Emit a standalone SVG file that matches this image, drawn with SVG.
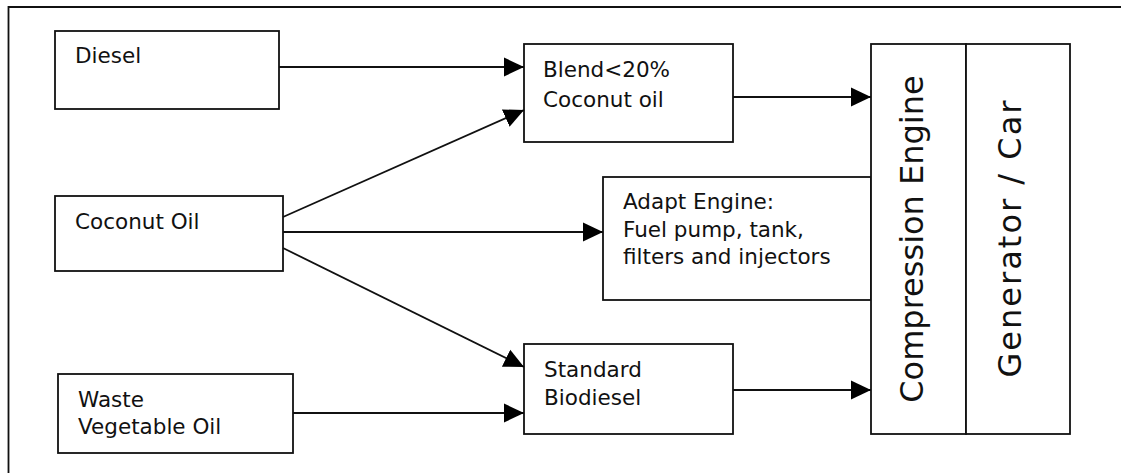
<svg xmlns="http://www.w3.org/2000/svg" width="1121" height="473" viewBox="0 0 1121 473">
<style>
.box{fill:#fff;stroke:#111;stroke-width:1.8}
.t{font-family:"DejaVu Sans","Liberation Sans",sans-serif;font-size:21.5px;fill:#111}
.big{font-family:"DejaVu Sans","Liberation Sans",sans-serif;font-size:32px;fill:#111}
.c{stroke:#111;stroke-width:1.8;fill:none}
</style>
<defs>
<marker id="ah" markerUnits="userSpaceOnUse" markerWidth="20" markerHeight="20" viewBox="0 0 19 18" refX="19" refY="9" orient="auto">
<path d="M0,0 L19,9 L0,18 Z" fill="#000"/>
</marker>
</defs>
<rect width="1121" height="473" fill="#fff"/>
<g id="frame">
<path d="M8.5,473 V7 H1121" class="c"/>
</g>
<g id="diesel">
<rect class="box" x="55" y="31" width="224" height="78"/>
<text class="t" x="75" y="63">Diesel</text>
</g>
<g id="coconut">
<rect class="box" x="55" y="196" width="228" height="75"/>
<text class="t" x="75" y="229">Coconut Oil</text>
</g>
<g id="waste">
<rect class="box" x="58" y="374" width="235" height="79"/>
<text class="t" x="78" y="407">Waste</text>
<text class="t" x="78" y="434">Vegetable Oil</text>
</g>
<g id="blend">
<rect class="box" x="524" y="44" width="209" height="98"/>
<text class="t" x="543" y="77">Blend&lt;20%</text>
<text class="t" x="543" y="107">Coconut oil</text>
</g>
<g id="adapt">
<rect class="box" x="603" y="177" width="268" height="123"/>
<text class="t" x="623" y="209">Adapt Engine:</text>
<text class="t" x="623" y="237">Fuel pump, tank,</text>
<text class="t" x="623" y="264">filters and injectors</text>
</g>
<g id="standard">
<rect class="box" x="524" y="344" width="209" height="90"/>
<text class="t" x="544" y="377">Standard</text>
<text class="t" x="544" y="405">Biodiesel</text>
</g>
<g id="engine">
<rect class="box" x="871" y="44" width="95" height="390"/>
<text class="big" x="923" y="239" text-anchor="middle" transform="rotate(-90 923 239)">Compression Engine</text>
</g>
<g id="generator">
<rect class="box" x="966" y="44" width="104" height="390"/>
<text class="big" x="1021" y="239" text-anchor="middle" textLength="277" lengthAdjust="spacing" transform="rotate(-90 1021 239)">Generator / Car</text>
</g>
<g id="connectors">
<line class="c" x1="279" y1="67" x2="524" y2="67" marker-end="url(#ah)"/>
<line class="c" x1="283" y1="217" x2="524" y2="110" marker-end="url(#ah)"/>
<line class="c" x1="283" y1="232" x2="603" y2="232" marker-end="url(#ah)"/>
<line class="c" x1="283" y1="248" x2="524" y2="367" marker-end="url(#ah)"/>
<line class="c" x1="293" y1="413" x2="524" y2="413" marker-end="url(#ah)"/>
<line class="c" x1="733" y1="97" x2="871" y2="97" marker-end="url(#ah)"/>
<line class="c" x1="733" y1="390" x2="871" y2="390" marker-end="url(#ah)"/>
</g>
</svg>
